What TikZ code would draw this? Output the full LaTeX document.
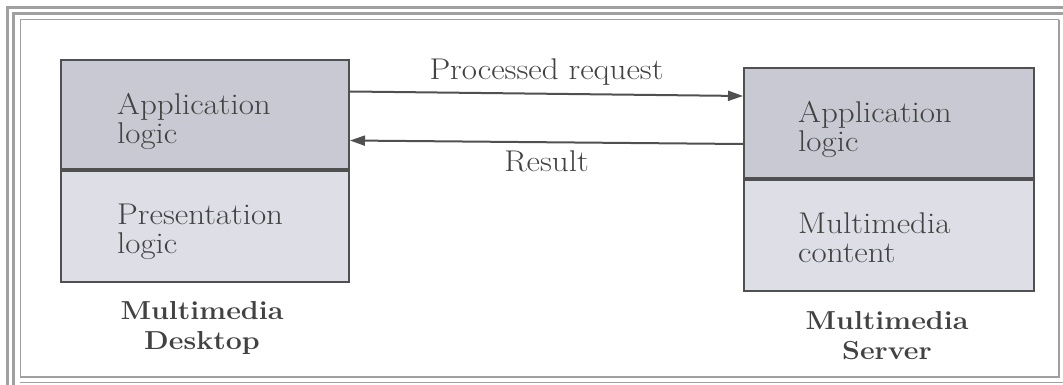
\documentclass[tikz,border=0pt]{standalone}
\usepackage{fontspec}
\setmainfont{Latin Modern Roman}[FakeStretch=1.1]
\usetikzlibrary{arrows.meta}
\definecolor{ink}{HTML}{424242}
\definecolor{linec}{HTML}{505050}
\definecolor{appfill}{HTML}{C9C9D3}
\definecolor{presfill}{HTML}{DEDEE6}
\definecolor{framec}{HTML}{A0A0A0}
\tikzset{
  every node/.style={text=ink},
  txt/.style={font=\fontsize{30}{29}\selectfont},
  boxpart/.style={draw=linec, line width=2pt, anchor=north west, inner sep=0pt},
  lbox/.style={boxpart, minimum width=288pt},
  rbox/.style={boxpart, minimum width=290pt},
  boxtext/.style={txt, align=left, anchor=west, inner sep=0pt},
  arr/.style={draw=linec, line width=2pt, -{Triangle[length=15pt,width=10pt]}},
  caption/.style={font=\fontsize{26}{30}\selectfont\bfseries, align=center},
  frameline/.style={draw=framec, line width=2.5pt},
}
\begin{document}
\begin{tikzpicture}[x=1pt,y=-1pt]
\useasboundingbox (0,0) rectangle (1063,385);
\fill[white] (0,0) rectangle (1063,385);
% frame
\draw[frameline] (7.5,385) -- (7.5,7.5) -- (1063,7.5);
\draw[frameline] (13.5,385) -- (13.5,13.5) -- (1063,13.5);
\draw[draw=framec, line width=1pt] (20,377) -- (20,20) -- (1059,20);
\draw[frameline] (1059,20) -- (1059,377) -- (20,377);
\draw[draw=framec, line width=1pt] (20,382) -- (1063,382);
% left stack
\node[lbox, minimum height=109pt, fill=appfill] (lapp) at (60,59) {};
\node[lbox, minimum height=111pt, fill=presfill] (lpres) at (lapp.south west) {};
\node[boxtext] (lappt) at ([xshift=57pt,yshift=-7pt]lapp.west) {Application\\logic};
\node[boxtext] (lprest) at ([xshift=57pt,yshift=-5pt]lpres.west) {Presentation\\logic};
% right stack
\node[rbox, minimum height=110pt, fill=appfill] (rapp) at (743,67) {};
\node[rbox, minimum height=111pt, fill=presfill] (rcont) at (rapp.south west) {};
\node[boxtext] (rappt) at ([xshift=55pt,yshift=-6pt]rapp.west) {Application\\logic};
\node[boxtext] (rcontt) at ([xshift=55pt,yshift=-2pt]rcont.west) {Multimedia\\content};
% arrows
\draw[arr] ([yshift=23pt]lapp.east) -- node[txt, above=4pt] (req) {Processed request} ([yshift=27pt]rapp.west);
\draw[arr] ([yshift=-21pt]rapp.west) -- node[txt, below=4pt] (res) {Result} ([yshift=-26pt]lapp.east);
% captions
\node[caption] (desk) at (202,328) {Multimedia\\Desktop};
\node[caption] (serv) at (887,336) {Multimedia\\Server};
\end{tikzpicture}
\end{document}
